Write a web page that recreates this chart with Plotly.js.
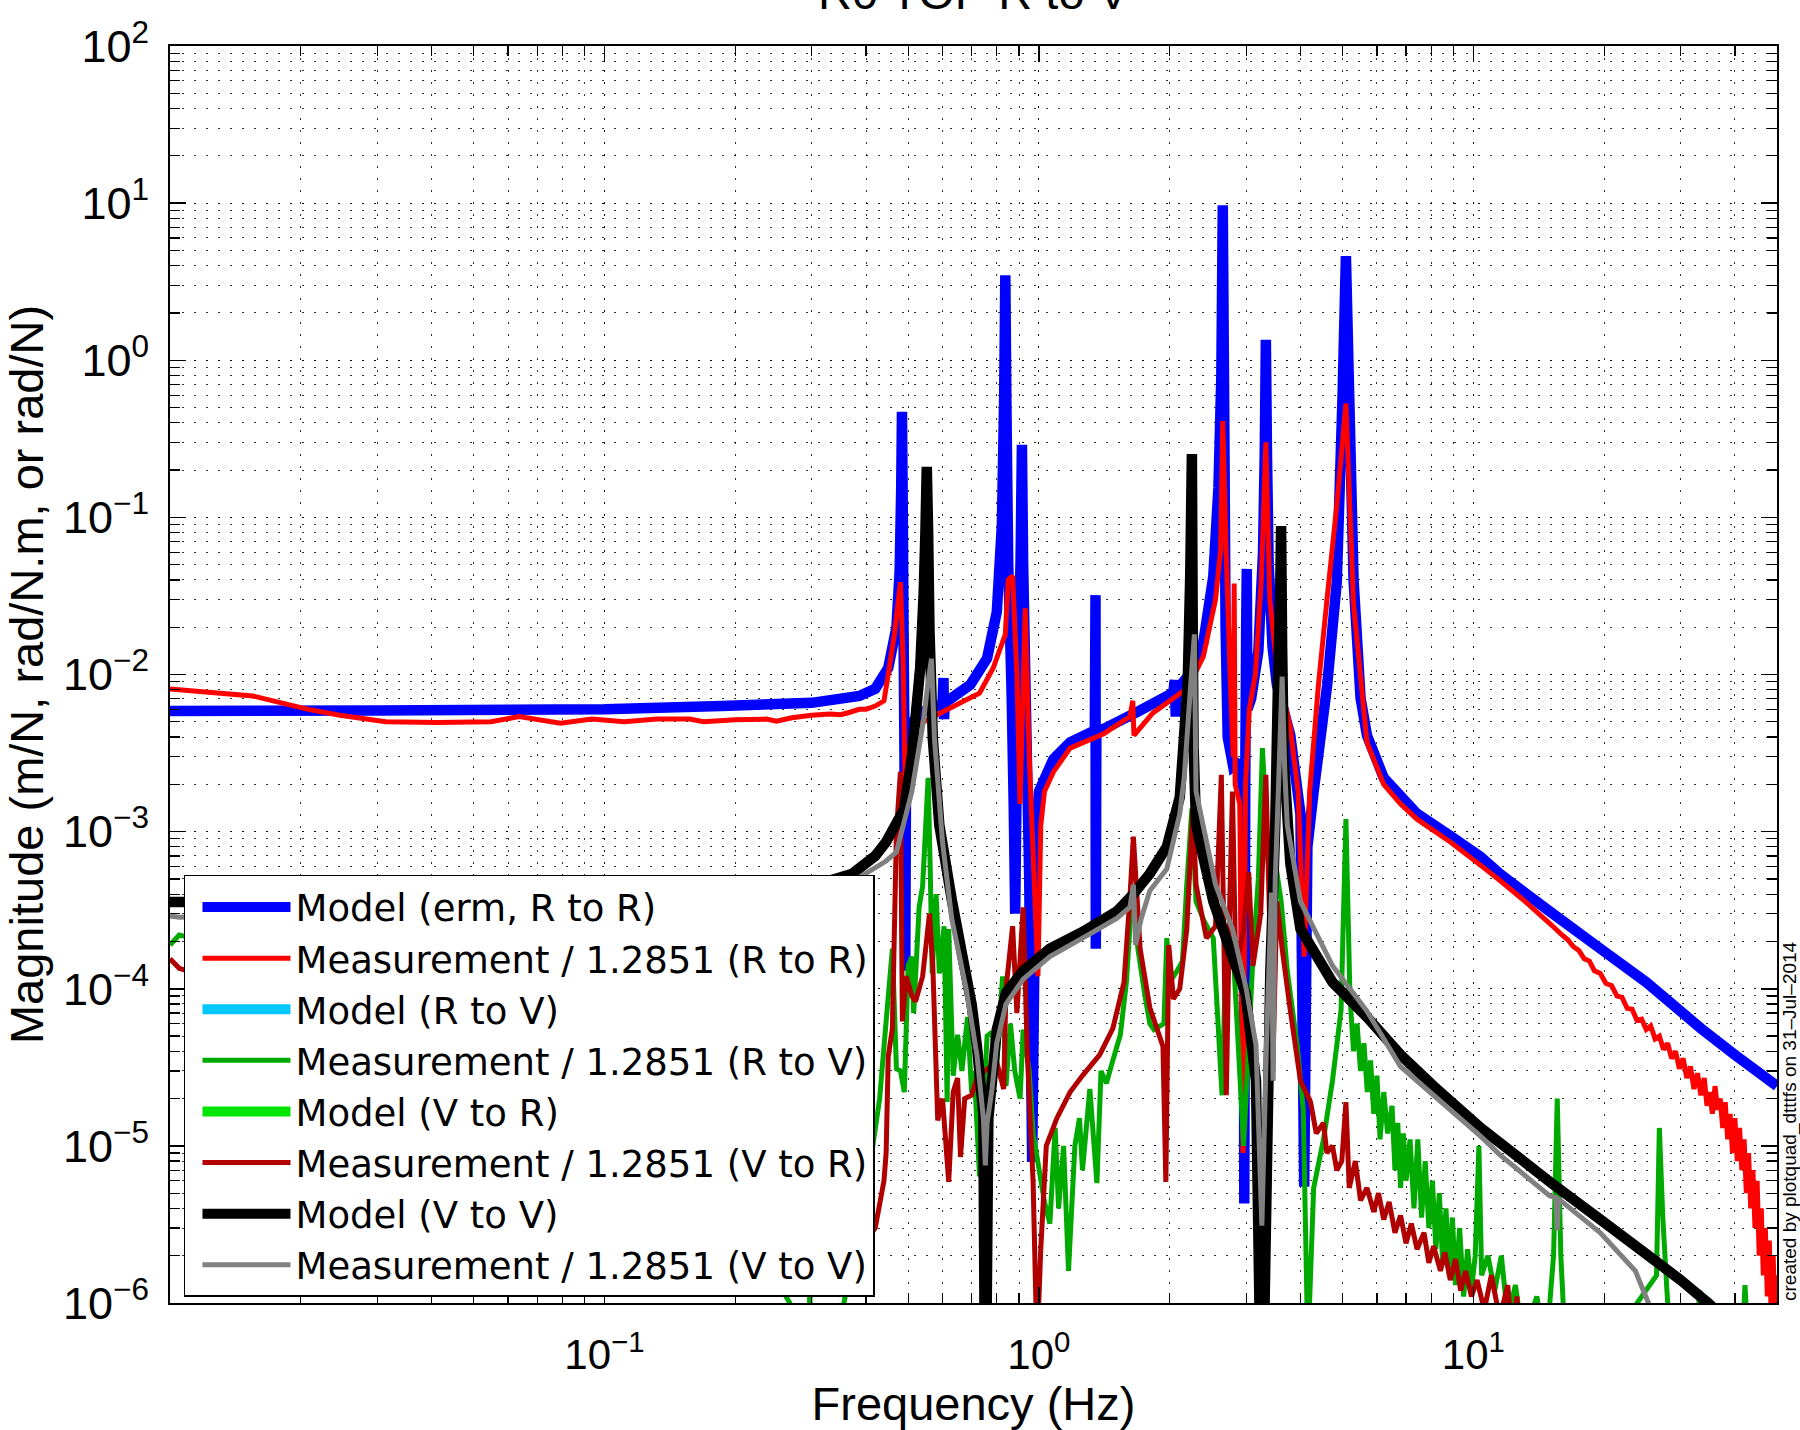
<!DOCTYPE html>
<html><head><meta charset="utf-8">
<script src="https://cdn.plot.ly/plotly-3.0.1.min.js"></script>
<style>html,body{margin:0;padding:0;background:#fff;}#chart{width:1800px;height:1430px;}</style>
</head><body><div id="chart"></div>
<script>
// ---- tick labels ----
const xTickVals = [0.1, 1, 10];
const xTickText = ['10<sup>\u22121</sup>', '10<sup>0</sup>', '10<sup>1</sup>'];
const yTickVals = [1e-6, 1e-5, 1e-4, 1e-3, 1e-2, 1e-1, 1, 10, 100];
const yTickText = ['10<sup>\u22126</sup>', '10<sup>\u22125</sup>', '10<sup>\u22124</sup>', '10<sup>\u22123</sup>',
  '10<sup>\u22122</sup>', '10<sup>\u22121</sup>', '10<sup>0</sup>', '10<sup>1</sup>', '10<sup>2</sup>'];
const seriesNames = ['Model (erm, R to R)', 'Measurement / 1.2851 (R to R)', 'Model (R to V)',
  'Measurement / 1.2851 (R to V)', 'Model (V to R)', 'Measurement / 1.2851 (V to R)',
  'Model (V to V)', 'Measurement / 1.2851 (V to V)'];

// ---- Model (erm, R to R) ----
const modelRR_freq = [
  0.01, 0.03, 0.1, 0.186, 0.30, 0.386, 0.42, 0.45, 0.47, 0.478,
  0.482, 0.484, 0.486, 0.488, 0.4905, 0.4925, 0.4945, 0.498, 0.51, 0.533,
  0.600, 0.603, 0.605, 0.607, 0.695, 0.76, 0.80, 0.822, 0.832, 0.837,
  0.842, 0.85, 0.865, 0.875, 0.882, 0.89, 0.90, 0.908, 0.914, 0.92,
  0.935, 0.95, 0.965, 0.98, 0.995, 1.0, 1.08, 1.18, 1.345, 1.35,
  1.352, 1.356, 1.41, 1.69, 2.01, 2.04, 2.055, 2.065, 2.08, 2.20,
  2.39, 2.52, 2.59, 2.63, 2.65, 2.67, 2.69, 2.72, 2.80, 2.90,
  2.96, 2.97, 2.985, 3.0, 3.01, 3.02, 3.08, 3.2, 3.28, 3.31,
  3.33, 3.35, 3.38, 3.45, 3.53, 3.79, 4.0, 4.08, 4.15, 4.29,
  4.61, 4.85, 5.0, 5.09, 5.18, 5.3, 5.5, 5.69, 6.22, 7.42,
  8.85, 10.4, 11.5, 15, 19.6, 25, 33.4, 40, 50];
const modelRR_mag = [
  5.85e-3, 5.9e-3, 6.0e-3, 6.3e-3, 6.6e-3, 7.3e-3, 8.1e-3, 1.1e-2, 2.0e-2, 4.5e-2,
  0.15, 0.47, 0.12, 0.02, 3e-3, 1.3e-4, 2.5e-3, 4.3e-3, 4.9e-3, 5.7e-3,
  6.5e-3, 9.5e-3, 5.2e-3, 6.6e-3, 8.6e-3, 1.27e-2, 2.5e-2, 9e-2, 0.6, 3.47,
  0.5, 0.05, 8e-3, 1.5e-3, 3e-4, 3e-3, 1.5e-2, 6e-2, 0.29, 0.05,
  5e-3, 5e-4, 7.9e-6, 4e-4, 1.4e-3, 1.8e-3, 2.9e-3, 3.7e-3, 4.4e-3, 0.032,
  1.8e-4, 4.4e-3, 4.5e-3, 5.8e-3, 7.5e-3, 7.8e-3, 9.2e-3, 5.4e-3, 8.0e-3, 9.7e-3,
  1.6e-2, 4.2e-2, 0.155, 0.8, 9.7, 0.5, 0.02, 4e-3, 2.6e-3, 2.8e-3,
  1.8e-3, 4.3e-6, 2e-3, 0.02, 0.047, 6e-3, 7e-3, 1.4e-2, 0.06, 0.25,
  1.35, 0.25, 0.05, 1.5e-2, 8.6e-3, 4.1e-3, 1.3e-3, 5.5e-6, 8e-4, 1.8e-3,
  8.6e-3, 3.9e-2, 0.59, 4.6, 0.59, 4e-2, 7.1e-3, 4.1e-3, 2.2e-3, 1.3e-3,
  9.4e-4, 6.9e-4, 5.4e-4, 3.1e-4, 1.8e-4, 1.1e-4, 5.6e-5, 3.8e-5, 2.4e-5];

// ---- Measurement / 1.2851 (R to R) ----
const measRR_freq = [
  0.01, 0.0155, 0.0208, 0.0246, 0.0314, 0.041, 0.0548, 0.0636, 0.0792, 0.0936,
  0.111, 0.132, 0.157, 0.169, 0.2, 0.236, 0.249, 0.27, 0.30, 0.33,
  0.35, 0.367, 0.386, 0.40, 0.42, 0.44, 0.45, 0.465, 0.48, 0.487,
  0.4925, 0.505, 0.52, 0.58, 0.66, 0.73, 0.785, 0.822, 0.837, 0.85,
  0.87, 0.89, 0.905, 0.93, 0.95, 0.975, 0.995, 1.01, 1.03, 1.08,
  1.18, 1.41, 1.62, 1.645, 1.655, 1.83, 2.20, 2.39, 2.55, 2.62,
  2.65, 2.70, 2.76, 2.80, 2.815, 2.83, 2.90, 2.95, 2.99, 3.05,
  3.15, 3.25, 3.33, 3.40, 3.53, 3.79, 3.95, 4.08, 4.2, 4.4,
  4.61, 4.85, 5.09, 5.3, 5.69, 6.22, 6.8, 7.42, 8.85, 10.4,
  11.5, 13, 15, 16, 16.5, 17, 17.5, 18, 18.5, 19,
  19.6, 20.2, 20.8, 21.4, 22, 22.6, 23.2, 23.8, 24.4, 25,
  25.6, 26.2, 26.8, 27.4, 28, 28.6, 29.2, 29.8, 30.4, 31,
  31.6, 32.2, 32.8, 33.4, 34, 34.5,
  35, 35.5, 36, 36.5, 37, 37.5, 38, 38.5, 39, 39.5,
  40, 40.5, 41, 41.5, 42, 42.5, 43, 43.5, 44, 44.5,
  45, 45.5, 46, 46.5, 47, 47.5, 48, 48.5, 49, 49.5,
  50];
const measRR_mag = [
  8.1e-3, 7.3e-3, 6.0e-3, 5.5e-3, 5.0e-3, 4.95e-3, 5.0e-3, 5.4e-3, 4.9e-3, 5.2e-3,
  5.0e-3, 5.2e-3, 5.2e-3, 5.0e-3, 5.15e-3, 5.2e-3, 5.05e-3, 5.3e-3, 5.5e-3, 5.6e-3,
  5.55e-3, 5.75e-3, 6.0e-3, 6.0e-3, 6.3e-3, 6.8e-3, 1.0e-2, 1.8e-2, 3.87e-2, 1.2e-2,
  1.7e-3, 3.5e-3, 4.7e-3, 5.5e-3, 6.6e-3, 7.6e-3, 1.1e-2, 1.57e-2, 1.8e-2, 4.0e-2,
  4.25e-2, 1e-2, 1.5e-3, 2.64e-2, 3e-3, 5e-4, 1.2e-4, 1.1e-3, 1.8e-3, 2.4e-3,
  3.4e-3, 4.2e-3, 5.4e-3, 6.8e-3, 4.1e-3, 5.7e-3, 8.2e-3, 1.3e-2, 3e-2, 6.2e-2,
  0.41, 5.7e-2, 8.6e-3, 3e-3, 3.8e-2, 2e-3, 1.5e-3, 9e-6, 2e-3, 6e-3,
  1e-2, 4e-2, 0.30, 3e-2, 1.1e-2, 4.6e-3, 1.8e-3, 1.6e-4, 1.8e-3, 8.6e-3,
  3.1e-2, 0.12, 0.53, 2.8e-2, 3.7e-3, 2.0e-3, 1.5e-3, 1.2e-3, 8.6e-4, 6.1e-4,
  4.9e-4, 3.7e-4, 2.6e-4, 2.2e-4, 2.05e-4, 1.85e-4, 1.75e-4, 1.55e-4, 1.5e-4, 1.3e-4,
  1.25e-4, 1.08e-4, 1.05e-4, 9e-5, 8.8e-5, 7.5e-5, 7.4e-5, 6.3e-5, 6.4e-5, 5.5e-5,
  5.8e-5, 4.8e-5, 5.0e-5, 4.1e-5, 4.5e-5, 3.6e-5, 4.0e-5, 3.1e-5, 3.6e-5, 2.7e-5,
  3.2e-5, 2.3e-5, 2.9e-5, 2.1e-5, 2.7e-5, 1.8e-5,
  2.2e-5, 1.6e-5, 2.4e-5, 1.7e-5, 2.0e-5, 1.3e-5, 1.9e-5, 1.1e-5, 1.6e-5, 9e-6,
  1.5e-5, 8e-6, 1.3e-5, 7e-6, 1.1e-5, 5e-6, 9e-6, 4e-6, 7e-6, 3e-6,
  6e-6, 2e-6, 4e-6, 1.5e-6, 3e-6, 1.1e-6, 2.5e-6, 8e-7, 2e-6, 7e-7,
  1.5e-6];

// ---- Model (R to V): below the plotted range everywhere ----
const modelRV_freq = [0.01, 50];
const modelRV_mag = [1e-9, 1e-9];

// ---- Measurement / 1.2851 (R to V) ----
const measRV_freq = [
  0.01, 0.0105, 0.012, 0.02, 0.04, 0.08, 0.15, 0.22, 0.28, 0.295,
  0.297, 0.299, 0.35, 0.40, 0.43, 0.445, 0.46, 0.47, 0.48, 0.49,
  0.50, 0.51, 0.515, 0.53, 0.54, 0.548, 0.556, 0.562, 0.568, 0.58,
  0.59, 0.605, 0.615, 0.62, 0.635, 0.65, 0.665, 0.685, 0.70, 0.71,
  0.73, 0.76, 0.78, 0.80, 0.825, 0.84, 0.86, 0.88, 0.905, 0.92,
  0.95, 0.97, 1.0, 1.03, 1.06, 1.09, 1.11, 1.14, 1.17, 1.21,
  1.24, 1.26, 1.31, 1.36, 1.39, 1.43, 1.48, 1.54, 1.59, 1.64,
  1.69, 1.75, 1.80, 1.84, 1.94, 1.97, 2.0, 2.08, 2.14, 2.19,
  2.25, 2.30, 2.40, 2.52, 2.64, 2.70, 2.79, 2.96, 3.11, 3.2,
  3.27, 3.37, 3.46, 3.61, 3.73, 3.93, 4.06, 4.16, 4.29, 4.52,
  4.74, 4.96, 5.09, 5.2, 5.3, 5.4, 5.5, 5.6, 5.7, 5.8,
  5.9, 6.0, 6.1, 6.22, 6.35, 6.5, 6.6, 6.7, 6.8, 6.9,
  7.0, 7.15, 7.3, 7.45, 7.6, 7.75, 7.9, 8.05, 8.2, 8.35,
  8.5, 8.65, 8.8, 8.95, 9.1, 9.3, 9.5, 9.7, 9.9, 10.1,
  10.3, 10.45, 10.8, 11.2, 11.6, 12.0, 12.5, 13.0, 14.0, 14.7,
  15.3, 15.6, 15.9, 16.3, 20, 26.4, 26.8, 27.3, 27.9, 28.5,
  32.5, 33.2, 34, 41.5, 42.2, 43, 50];
const measRV_mag = [
  1.9e-4, 2.2e-4, 2.0e-4, 1.4e-4, 8e-5, 3e-5, 1e-5, 2.5e-6, 8e-7, 5e-7,
  1.25e-6, 5e-7, 8e-7, 5e-6, 2e-5, 6.2e-5, 1.8e-4, 3.1e-5, 3e-5, 2.2e-5,
  1.4e-4, 1.6e-4, 7e-5, 3.3e-4, 4.5e-4, 1.0e-3, 2.2e-3, 6e-4, 1.25e-4, 4e-4,
  1.25e-4, 2.5e-4, 1.9e-5, 2.4e-4, 2.8e-5, 5.1e-5, 3e-5, 6.6e-5, 2.2e-5, 3e-5,
  6.4e-6, 5e-5, 5.3e-5, 3.3e-5, 1.2e-4, 2.4e-5, 6e-5, 3e-5, 2e-5, 5.5e-5,
  3e-5, 1.2e-5, 7.2e-6, 4.4e-6, 3.2e-6, 1.3e-5, 4e-6, 1e-5, 1.6e-6, 1e-5,
  1.5e-5, 7e-6, 2.3e-5, 5.8e-6, 3e-5, 2.5e-5, 3.5e-5, 5.1e-5, 1.1e-4, 4.2e-4,
  1.8e-4, 9.4e-5, 6e-5, 5.5e-5, 6e-5, 2.1e-4, 1.1e-4, 1.3e-4, 1.5e-4, 4.6e-4,
  1.4e-3, 3.6e-4, 2.7e-4, 2.1e-4, 2.1e-5, 2.1e-4, 2.1e-4, 1.0e-5, 1.6e-4, 5e-4,
  3.4e-3, 6.3e-4, 8e-4, 3.6e-4, 1.3e-4, 4.4e-5, 1.7e-5, 5e-7, 5.4e-6, 1.1e-5,
  2.6e-5, 7.3e-5, 1.2e-3, 9e-5, 4e-5, 6e-5, 3e-5, 4.5e-5, 2.2e-5, 3.5e-5,
  1.6e-5, 2.8e-5, 1.1e-5, 2.2e-5, 1.2e-5, 1.8e-5, 7e-6, 1.4e-5, 5.4e-6, 1.2e-5,
  6e-6, 1.1e-5, 4e-6, 1.1e-5, 3.5e-6, 8e-6, 3e-6, 6e-6, 2.2e-6, 5e-6,
  1.8e-6, 4e-6, 1.5e-6, 3.5e-6, 1.3e-6, 3e-6, 1.1e-6, 2.2e-6, 1.2e-6, 2e-6,
  1.0e-5, 1.5e-6, 2e-6, 1.2e-6, 2e-6, 8e-7, 1.3e-6, 6e-7, 1.1e-6, 5e-7,
  2e-6, 2e-5, 2e-6, 5e-7, 5e-7, 1.5e-6, 1.3e-5, 3.5e-6, 1.2e-6, 5e-7,
  5e-7, 1.2e-6, 5e-7, 5e-7, 1.3e-6, 5e-7, 5e-7];

// ---- Model (V to R): below the plotted range everywhere ----
const modelVR_freq = [0.01, 50];
const modelVR_mag = [1e-9, 1e-9];

// ---- Measurement / 1.2851 (V to R) ----
const measVR_freq = [
  0.01, 0.0105, 0.015, 0.03, 0.08, 0.2, 0.35, 0.42, 0.44, 0.445,
  0.45, 0.46, 0.47, 0.48, 0.485, 0.495, 0.51, 0.52, 0.54, 0.56,
  0.57, 0.585, 0.60, 0.62, 0.635, 0.65, 0.66, 0.675, 0.70, 0.72,
  0.75, 0.80, 0.83, 0.84, 0.87, 0.89, 0.92, 0.94, 0.97, 0.99,
  1.01, 1.04, 1.10, 1.18, 1.26, 1.38, 1.48, 1.57, 1.62, 1.65,
  1.71, 1.80, 1.93, 1.96, 1.99, 2.04, 2.11, 2.19, 2.26, 2.30,
  2.43, 2.55, 2.63, 2.70, 2.75, 2.79, 2.84, 2.96, 3.04, 3.11,
  3.24, 3.33, 3.40, 3.45, 3.53, 3.63, 3.79, 4.0, 4.22, 4.35,
  4.52, 4.6, 4.74, 4.85, 4.98, 5.09, 5.18, 5.35, 5.5, 5.69,
  5.9, 6.05, 6.22, 6.4, 6.6, 6.8, 7.0, 7.2, 7.42, 7.7,
  7.9, 8.1, 8.4, 8.6, 8.85, 9.1, 9.35, 9.6, 9.9, 10.2,
  10.6, 11, 11.5, 12, 12.3, 12.6, 12.8];
const measVR_mag = [
  1.55e-4, 1.35e-4, 1.0e-4, 5e-5, 1.5e-5, 4e-6, 1.5e-6, 3e-6, 6e-6, 9e-6,
  3.7e-5, 5.6e-5, 1e-3, 2.4e-3, 6.2e-5, 1.2e-4, 9e-5, 8.3e-5, 1.2e-4, 3e-4,
  1.4e-4, 1.45e-5, 2e-5, 5.9e-6, 2.2e-5, 2.7e-5, 8.5e-6, 2e-5, 2.1e-5, 2.7e-5,
  3e-5, 3.4e-5, 2.3e-5, 1e-4, 2.5e-4, 7e-5, 3.3e-4, 4e-5, 5.8e-6, 5e-7,
  2.2e-6, 1e-5, 1.5e-5, 2.2e-5, 2.8e-5, 3.8e-5, 5.6e-5, 1.1e-4, 3.8e-4, 9.3e-4,
  1.8e-4, 7.6e-5, 4.3e-5, 5.9e-6, 1.9e-4, 8.6e-5, 1.0e-4, 2.4e-4, 1.4e-3, 4.6e-4,
  2.1e-4, 2.5e-4, 2.3e-3, 2.1e-5, 3.6e-4, 1.8e-3, 1.3e-4, 2.4e-4, 5.5e-4, 1.4e-4,
  3e-4, 2.3e-3, 2.5e-4, 2.6e-5, 3.6e-4, 1.8e-4, 7.3e-5, 2.6e-5, 1.9e-5, 1.2e-5,
  1.4e-5, 9e-6, 1.0e-5, 7e-6, 8e-6, 1.9e-5, 5.4e-6, 8e-6, 4.5e-6, 5.4e-6,
  3.8e-6, 5e-6, 3.4e-6, 4.4e-6, 2.8e-6, 3.6e-6, 2.4e-6, 3.2e-6, 2.2e-6, 2.8e-6,
  1.8e-6, 2.3e-6, 1.6e-6, 2.1e-6, 1.4e-6, 1.9e-6, 1.2e-6, 1.6e-6, 1.1e-6, 1.4e-6,
  9e-7, 1.5e-6, 8e-7, 1.3e-6, 6e-7, 1.1e-6, 5e-7];

// ---- Model (V to V) ----
const modelVV_freq = [
  0.01, 0.05, 0.15, 0.3, 0.372, 0.42, 0.445, 0.49, 0.51, 0.533,
  0.543, 0.548, 0.552, 0.556, 0.56, 0.57, 0.59, 0.63, 0.67, 0.70,
  0.72, 0.745, 0.753, 0.765, 0.78, 0.80, 0.84, 0.92, 1.06, 1.26,
  1.51, 1.65, 1.80, 1.97, 2.11, 2.20, 2.23, 2.25, 2.26, 2.27,
  2.30, 2.52, 2.79, 2.99, 3.16, 3.26, 3.41, 3.50, 3.55, 3.59,
  3.61, 3.63, 3.66, 3.79, 4.0, 4.74, 5.69, 6.8, 8.1, 10.4,
  11.5, 15, 19.6, 25, 30, 34.7, 40];
const modelVV_mag = [
  3.56e-4, 3.6e-4, 3.8e-4, 4.5e-4, 5.4e-4, 7e-4, 8.6e-4, 1.4e-3, 3e-3, 1.1e-2,
  3.3e-2, 8e-2, 0.21, 8e-2, 1.9e-2, 3.9e-3, 1.1e-3, 3.7e-4, 1.5e-4, 8e-5,
  4.3e-5, 1.6e-5, 1e-7, 1.5e-5, 2.6e-5, 5.5e-5, 9.4e-5, 1.3e-4, 1.8e-4, 2.3e-4,
  3.1e-4, 4e-4, 5.4e-4, 8e-4, 1.66e-3, 8.6e-3, 4.2e-2, 0.253, 2e-2, 3.5e-3,
  1.1e-3, 3.6e-4, 1.6e-4, 9.4e-5, 2.6e-5, 1e-7, 1.3e-4, 1.1e-3, 8.6e-3, 3e-2,
  0.088, 1.5e-2, 3e-3, 6.3e-4, 2.4e-4, 1.1e-4, 6.6e-5, 3.8e-5, 2.4e-5, 1.3e-5,
  1.05e-5, 5.9e-6, 3.4e-6, 2.05e-6, 1.4e-6, 1e-6, 7e-7];

// ---- Measurement / 1.2851 (V to V) ----
const measVV_freq = [
  0.01, 0.0105, 0.02, 0.05, 0.15, 0.3, 0.372, 0.445, 0.47, 0.51,
  0.543, 0.556, 0.566, 0.575, 0.60, 0.63, 0.68, 0.72, 0.745, 0.753,
  0.76, 0.78, 0.80, 0.84, 0.92, 1.06, 1.26, 1.51, 1.62, 1.65,
  1.67, 1.72, 1.80, 1.97, 2.11, 2.16, 2.25, 2.28, 2.30, 2.55,
  2.79, 3.0, 3.16, 3.26, 3.34, 3.43, 3.46, 3.50, 3.58, 3.63,
  3.68, 3.73, 4.0, 4.74, 5.69, 6.8, 8.1, 10.4, 11.5, 15,
  15.5, 15.6, 15.7, 19.6, 23.6, 25.3, 27];
const measVV_mag = [
  2.9e-4, 2.85e-4, 3.0e-4, 3.1e-4, 3.3e-4, 4.0e-4, 4.8e-4, 6.5e-4, 7.4e-4, 1.8e-3,
  5.2e-3, 9e-3, 1.26e-2, 3.9e-3, 8.6e-4, 2.8e-4, 1.0e-4, 3.8e-5, 1.5e-5, 7.5e-6,
  1.4e-5, 2.3e-5, 4.5e-5, 8e-5, 1.15e-4, 1.6e-4, 2.1e-4, 2.8e-4, 3.3e-4, 4.6e-4,
  1.9e-4, 2.8e-4, 4.2e-4, 5.8e-4, 1.3e-3, 2.2e-3, 1.1e-2, 1.8e-2, 1.8e-3, 4.6e-4,
  2.4e-4, 1.0e-4, 4.4e-5, 3.1e-6, 4.4e-5, 4.1e-4, 2.6e-5, 5e-4, 3e-3, 9.7e-3,
  2.5e-3, 1.1e-3, 3.6e-4, 1.4e-4, 7.2e-5, 3.2e-5, 2.1e-5, 1.15e-5, 8.8e-6, 4.8e-6,
  4.7e-6, 2.9e-6, 4.6e-6, 2.8e-6, 1.6e-6, 1.0e-6, 7e-7];

// ---- traces ----
function mk(name, f, m, color, width) {
  return {type: 'scatter', mode: 'lines', name: name, x: f, y: m,
          line: {color: color, width: width, simplify: false}, hoverinfo: 'x+y+name'};
}
const traces = [
  mk(seriesNames[0], modelRR_freq, modelRR_mag, '#0000ff', 10.5),
  mk(seriesNames[1], measRR_freq, measRR_mag, '#ff0000', 5),
  mk(seriesNames[2], modelRV_freq, modelRV_mag, '#00c8ff', 10.5),
  mk(seriesNames[3], measRV_freq, measRV_mag, '#00aa00', 5),
  mk(seriesNames[4], modelVR_freq, modelVR_mag, '#00e600', 10.5),
  mk(seriesNames[5], measVR_freq, measVR_mag, '#b00000', 5),
  mk(seriesNames[6], modelVV_freq, modelVV_mag, '#000000', 10.5),
  mk(seriesNames[7], measVV_freq, measVV_mag, '#808080', 5)
];

const gridColor = 'rgba(0,0,0,0.8)';
const gridDash = '1.5px,10.5px';
function axisBase(fontSize) {
  return {
    type: 'log', ticks: 'inside', tickcolor: '#000', tickwidth: 1.5, ticklen: 16,
    showline: true, linecolor: '#000', linewidth: 2, mirror: 'allticks',
    showgrid: true, gridcolor: gridColor, gridwidth: 1, griddash: gridDash,
    zeroline: false, tickmode: 'array',
    minor: {dtick: 'D1', ticks: 'inside', ticklen: 10, tickwidth: 1.2, tickcolor: '#000',
            showgrid: true, gridcolor: gridColor, gridwidth: 1, griddash: gridDash},
    tickfont: {size: fontSize, color: '#000', family: 'Liberation Sans, Arial, sans-serif'}
  };
}
const xaxis = Object.assign(axisBase(42), {
  range: [-2, Math.log10(50)], tickvals: xTickVals, ticktext: xTickText,
  ticklabelstandoff: 14,
  title: {text: 'Frequency (Hz)', font: {size: 47}, standoff: 8}
});
const yaxis = Object.assign(axisBase(45), {
  range: [-6, 2], tickvals: yTickVals, ticktext: yTickText,
  ticklabelstandoff: 10,
  title: {text: 'Magnitude (m/N, rad/N.m, or rad/N)', font: {size: 47}, standoff: 14}
});

const layout = {
  width: 1800, height: 1430,
  margin: {l: 170, r: 23, t: 46, b: 127, pad: 0},
  paper_bgcolor: '#ffffff', plot_bgcolor: '#ffffff',
  font: {family: 'Liberation Sans, Arial, sans-serif', color: '#000', size: 42},
  title: {text: 'R0 TOP R to V', font: {size: 47}, xref: 'paper', x: 0.5, xanchor: 'center',
          yref: 'container', y: 1 - 9 / 1430, yanchor: 'bottom'},
  xaxis: xaxis, yaxis: yaxis,
  showlegend: true,
  legend: {x: 0.0087, y: 0.3405, xanchor: 'left', yanchor: 'top', bgcolor: '#ffffff',
           bordercolor: '#000', borderwidth: 1.5, itemwidth: 88, indentation: 12, tracegroupgap: 0,
           font: {family: 'DejaVu Sans, sans-serif', size: 37, color: '#000'}},
  annotations: [{
    text: 'created by plotquad_dtttfs on 31\u2013Jul\u20132014', xref: 'paper', yref: 'paper',
    x: 1.0081, y: 0, xanchor: 'center', yanchor: 'bottom', textangle: -90, showarrow: false,
    font: {size: 19, color: '#000', family: 'Liberation Sans, Arial, sans-serif'}
  }]
};

Plotly.newPlot('chart', traces, layout, {displayModeBar: false, staticPlot: true});
</script>
</body></html>
